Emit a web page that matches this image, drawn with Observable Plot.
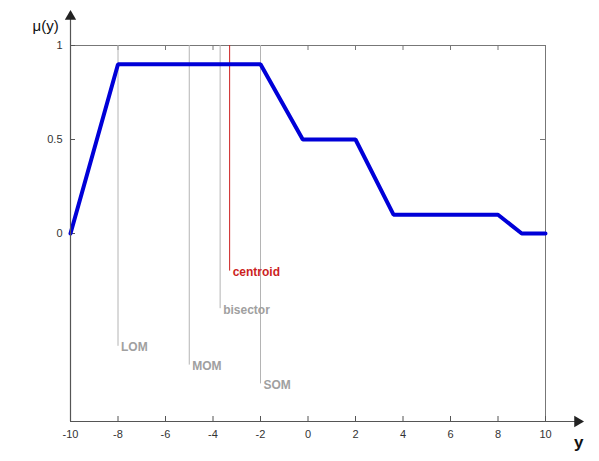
<!DOCTYPE html>
<html>
<head>
<meta charset="utf-8">
<script src="https://cdn.jsdelivr.net/npm/d3@7"></script>
<script src="https://cdn.jsdelivr.net/npm/@observablehq/plot@0.6"></script>
<style>
  html, body { margin: 0; padding: 0; background: #fff; }
  #chart svg { display: block; }
</style>
</head>
<body>
<div id="chart"></div>
<script>
// Aggregated membership function
const xs = [-10, -8, -2, -0.22, 2, 3.6, 8, 9, 10];
const mu = [0, 0.9, 0.9, 0.5, 0.5, 0.1, 0.1, 0, 0];
// Defuzzification results
const methods = ["LOM", "MOM", "bisector", "centroid", "SOM"];
const methodX = [-8, -5, -3.7, -3.3, -2];
const labelLevel = [-0.6, -0.7, -0.4, -0.2, -0.8];
// Ticks
const xTicks = [-10, -8, -6, -4, -2, 0, 2, 4, 6, 8, 10];
const yTicks = [0, 0.5, 1];

const curve = xs.map((x, i) => ({x, mu: mu[i]}));
const defuzz = methods.map((m, i) => ({m, x: methodX[i], y: labelLevel[i]}));
const colorOf = m => m === "centroid" ? "#cc1f1f" : "#b4b4b4";
const textColorOf = m => m === "centroid" ? "#cc1f1f" : "#a0a0a0";
const axisColor = "#555";
const [xMin, xMax] = [xTicks[0], xTicks[xTicks.length - 1]];
const [yMin, yMax] = [-1, 1];

const plot = Plot.plot({
  width: 599,
  height: 461,
  marginLeft: 70,
  marginRight: 54,
  marginTop: 45,
  marginBottom: 40,
  style: {fontFamily: "'Liberation Sans', Arial, sans-serif", fontSize: "11px", color: "#333", background: "#fff"},
  x: {domain: [xMin, xMax], ticks: xTicks, label: null},
  y: {domain: [yMin, yMax], ticks: yTicks, label: null},
  marks: [
    // frame: top and right edges
    Plot.ruleY([yMax], {stroke: "#777"}),
    Plot.ruleX([xMax], {stroke: "#777"}),
    // tick labels
    Plot.axisX(xTicks, {anchor: "bottom", tickSize: 0, tickPadding: 9, fill: "#333", tickFormat: d => String(d)}),
    Plot.axisY(yTicks, {anchor: "left", tickSize: 0, tickPadding: 8, fill: "#333", tickFormat: d => String(d)}),
    // inward ticks on all four sides
    Plot.ruleX(xTicks, {y1: yMin, y2: yMin, insetTop: -5, stroke: axisColor}),
    Plot.ruleX(xTicks, {y1: yMax, y2: yMax, insetBottom: -5, stroke: "#777"}),
    Plot.ruleY(yTicks, {x1: xMin, x2: xMin, insetRight: -5, stroke: axisColor}),
    Plot.ruleY(yTicks, {x1: xMax, x2: xMax, insetLeft: -5, stroke: "#777"}),
    // defuzzification lines
    Plot.ruleX(defuzz, {x: "x", y1: "y", y2: yMax, stroke: d => colorOf(d.m), strokeWidth: 1}),
    Plot.text(defuzz, {x: "x", y: "y", text: "m", textAnchor: "start", dx: 3, dy: 1, fill: d => textColorOf(d.m), fontWeight: "bold", fontSize: 12}),
    // membership curve
    Plot.line(curve, {x: "x", y: "mu", stroke: "#0000d8", strokeWidth: 4, strokeLinejoin: "miter"}),
    // axes lines with arrows
    Plot.ruleX([xMin], {y1: yMax, y2: yMin, insetTop: -27, stroke: axisColor, strokeWidth: 1.2}),
    Plot.ruleY([yMin], {x1: xMin, x2: xMax, insetRight: -30, stroke: axisColor, strokeWidth: 1.2}),
    Plot.dot([0], {frameAnchor: "top-left", dy: -29, symbol: "triangle", r: 4.2, fill: "#222", stroke: null}),
    Plot.dot([0], {frameAnchor: "bottom-right", dx: 32, symbol: "triangle", rotate: 90, r: 4.2, fill: "#222", stroke: null}),
    // axis labels
    Plot.text(["μ(y)"], {frameAnchor: "top-left", dx: -38, dy: -25, fontSize: 15, fill: "#111"}),
    Plot.text(["y"], {frameAnchor: "bottom-right", dx: 38, dy: 26, fontSize: 17, fontWeight: "bold", fill: "#111"})
  ]
});

document.getElementById("chart").appendChild(plot);
</script>
</body>
</html>
